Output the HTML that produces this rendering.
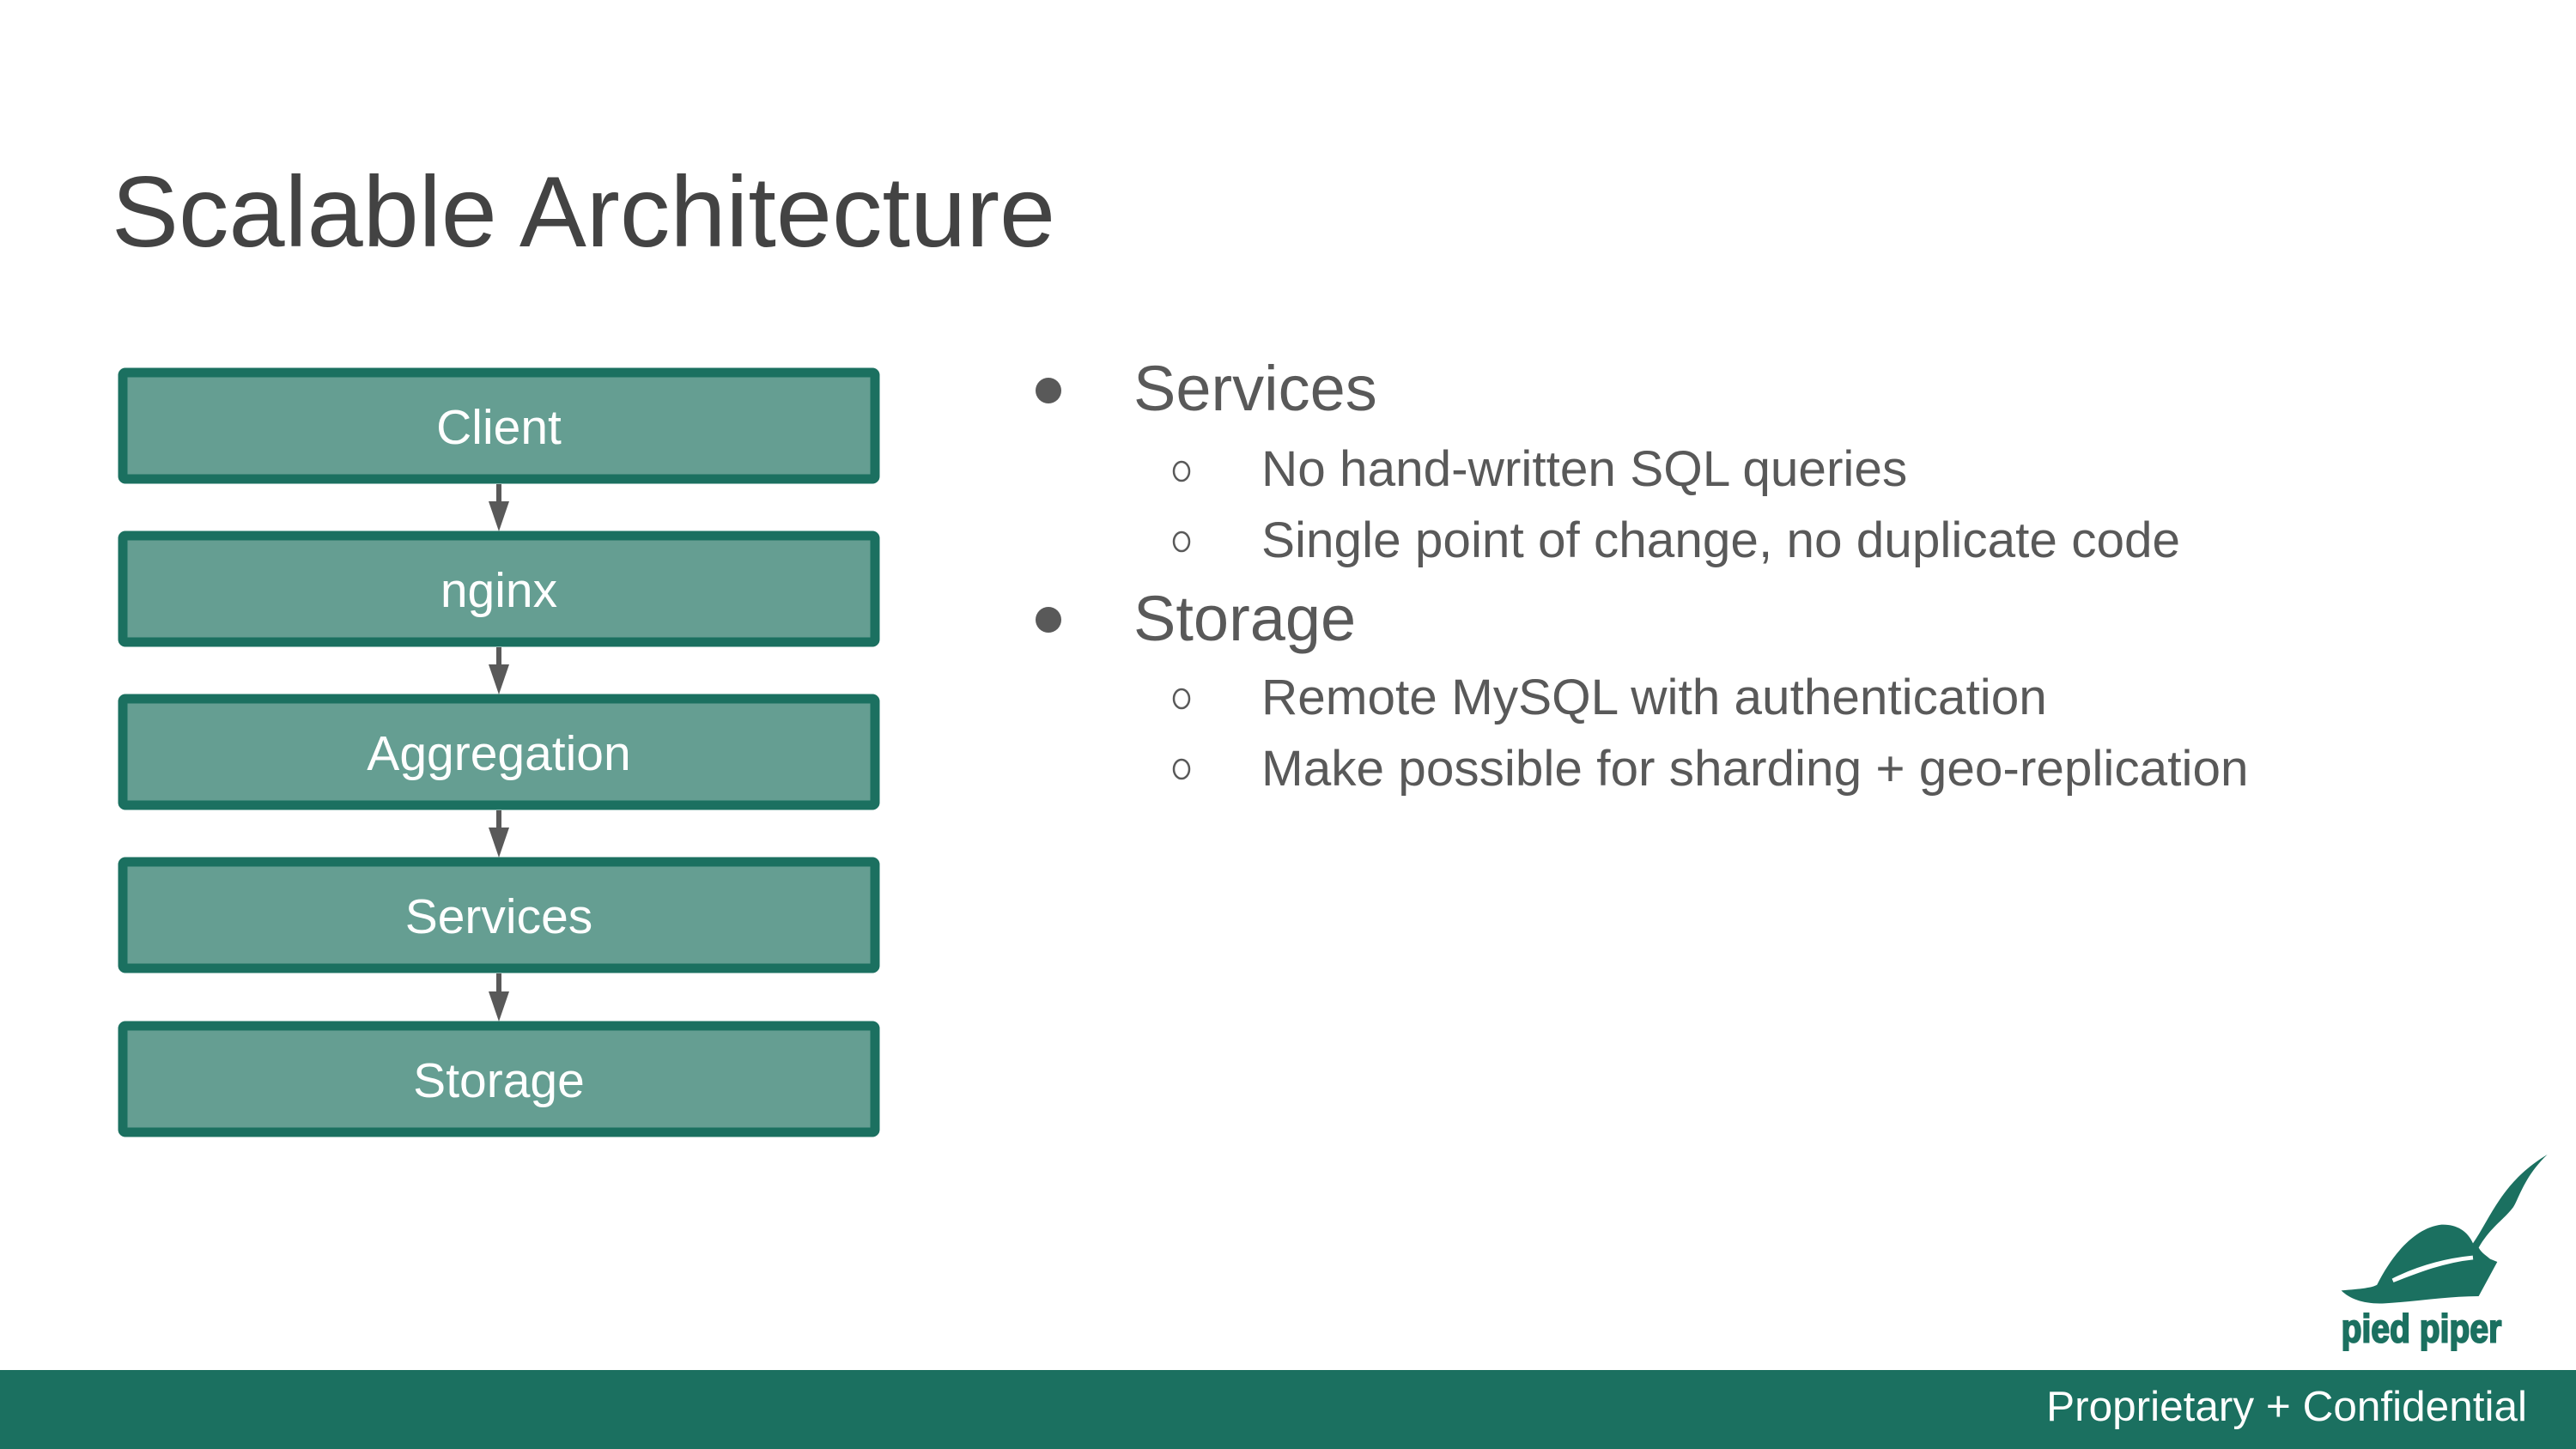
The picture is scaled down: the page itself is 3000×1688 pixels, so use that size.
<!DOCTYPE html>
<html><head><meta charset="utf-8"><style>
html,body{margin:0;padding:0;background:#fff;}
svg{display:block;}
</style></head><body>
<svg width="3000" height="1688" viewBox="0 0 3000 1688" xmlns="http://www.w3.org/2000/svg" font-family="Liberation Sans, Arial, sans-serif">
<rect width="3000" height="1688" fill="#fff"/>
<text x="130" y="287" font-size="117" fill="#434343">Scalable Architecture</text>

<g fill="#659e92" stroke="#1b7060" stroke-width="11">
<rect x="143" y="434" width="876" height="124" rx="3"/>
<rect x="143" y="624" width="876" height="124" rx="3"/>
<rect x="143" y="814" width="876" height="124" rx="3"/>
<rect x="143" y="1004" width="876" height="124" rx="3"/>
<rect x="143" y="1195" width="876" height="124" rx="3"/>
</g>
<g fill="#fff" font-size="57" text-anchor="middle">
<text x="581" y="517">Client</text>
<text x="581" y="707">nginx</text>
<text x="581" y="897">Aggregation</text>
<text x="581" y="1087">Services</text>
<text x="581" y="1278">Storage</text>
</g>
<g stroke="#595959" stroke-width="6" fill="#595959">
<line x1="581" y1="564" x2="581" y2="590"/><polygon points="569,584 593,584 581,619" stroke="none"/>
<line x1="581" y1="754" x2="581" y2="780"/><polygon points="569,774 593,774 581,809" stroke="none"/>
<line x1="581" y1="944" x2="581" y2="970"/><polygon points="569,964 593,964 581,999" stroke="none"/>
<line x1="581" y1="1134" x2="581" y2="1161"/><polygon points="569,1155 593,1155 581,1190" stroke="none"/>
</g>

<g fill="#595959">
<circle cx="1221" cy="455" r="15"/>
<circle cx="1221" cy="722" r="15"/>
<text x="1320" y="478" font-size="74">Services</text>
<text x="1320" y="746" font-size="74">Storage</text>
<g font-size="58.5">
<text x="1469" y="566">No hand-written SQL queries</text>
<text x="1469" y="649">Single point of change, no duplicate code</text>
<text x="1469" y="832">Remote MySQL with authentication</text>
<text x="1469" y="915">Make possible for sharding + geo-replication</text>
</g>
</g>
<g fill="none" stroke="#595959" stroke-width="2.5">
<ellipse cx="1376" cy="549" rx="9" ry="11"/>
<ellipse cx="1376" cy="631" rx="9" ry="11"/>
<ellipse cx="1376" cy="814" rx="9" ry="11"/>
<ellipse cx="1376" cy="896" rx="9" ry="11"/>
</g>

<svg x="2700" y="1320" width="300" height="368" viewBox="0 0 900 1104">
<g fill="#1b7060">
<path d="M80,550 C150,545 190,540 205,530 C260,420 340,330 430,320 C480,318 520,340 540,385 C600,300 640,170 800,75 C720,150 700,230 680,260 C650,300 600,330 560,400 C570,420 590,430 600,440 L625,450 L560,570 C450,570 330,590 230,595 C160,598 110,580 80,550 Z"/>
</g>
<path d="M260,515 C350,470 440,445 540,435 C440,445 350,480 260,515 Z" fill="#fff" stroke="#fff" stroke-width="14"/>
<text x="80" y="730" font-size="140" font-weight="bold" fill="#1b7060" stroke="#1b7060" stroke-width="6" textLength="560" lengthAdjust="spacingAndGlyphs">pied piper</text>
</svg>

<rect x="0" y="1596" width="3000" height="92" fill="#1b7060"/>
<text x="2943" y="1655" font-size="49.5" fill="#fff" text-anchor="end">Proprietary + Confidential</text>
</svg>
</body></html>
